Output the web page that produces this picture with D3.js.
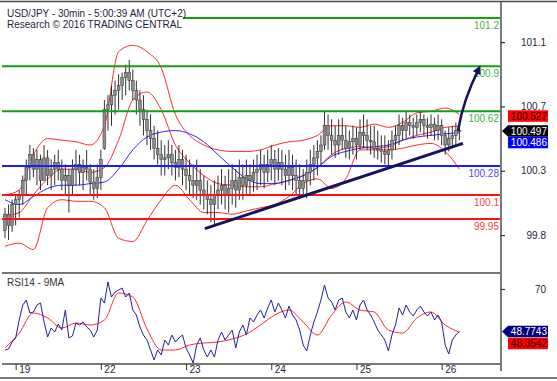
<!DOCTYPE html>
<html>
<head>
<meta charset="utf-8">
<script src="https://d3js.org/d3.v7.min.js"></script>
<style>
  body { margin: 0; background: #fff; }
  text { font-family: "Liberation Sans", Arial, sans-serif; font-size: 10px; }
</style>
</head>
<body>
<svg id="chart" width="557" height="381"></svg>
<script>
// ---- data ----
// 30 min bars, index 0 = first bar on the left
const highs = [100.02, 100.04, 100.07, 100.10, 100.13, 100.22, 100.32, 100.41, 100.39, 100.38,
  100.35, 100.41, 100.38, 100.32, 100.35, 100.38, 100.32, 100.29, 100.26, 100.32,
  100.38, 100.35, 100.32, 100.38, 100.29, 100.26, 100.29, 100.38, 100.69, 100.72,
  100.78, 100.81, 100.85, 100.86, 100.91, 100.94, 100.88, 100.81, 100.75, 100.72,
  100.63, 100.60, 100.53, 100.50, 100.44, 100.41, 100.44, 100.41, 100.38, 100.41,
  100.38, 100.35, 100.32, 100.29, 100.32, 100.26, 100.22, 100.19, 100.16, 100.19,
  100.22, 100.26, 100.22, 100.26, 100.29, 100.26, 100.32, 100.29, 100.32, 100.29,
  100.32, 100.35, 100.38, 100.35, 100.38, 100.41, 100.38, 100.39, 100.38, 100.35,
  100.38, 100.35, 100.32, 100.29, 100.26, 100.32, 100.38, 100.41, 100.44, 100.47,
  100.62, 100.60, 100.57, 100.53, 100.57, 100.58, 100.53, 100.50, 100.53, 100.52,
  100.57, 100.60, 100.57, 100.53, 100.53, 100.50, 100.47, 100.47, 100.44, 100.50,
  100.53, 100.60, 100.58, 100.62, 100.60, 100.58, 100.60, 100.62, 100.60, 100.58,
  100.60, 100.58, 100.60, 100.57, 100.50, 100.52, 100.53, 100.55, 100.53];
const lows = [99.83, 99.82, 99.87, 99.91, 99.96, 100.04, 100.10, 100.19, 100.21, 100.16,
  100.13, 100.19, 100.16, 100.13, 100.16, 100.19, 100.13, 100.10, 99.99, 100.10,
  100.16, 100.16, 100.13, 100.19, 100.10, 100.07, 100.08, 100.13, 100.38, 100.50,
  100.53, 100.60, 100.63, 100.69, 100.72, 100.75, 100.69, 100.60, 100.53, 100.47,
  100.41, 100.38, 100.32, 100.29, 100.22, 100.22, 100.26, 100.22, 100.19, 100.21,
  100.16, 100.13, 100.10, 100.08, 100.07, 100.04, 100.01, 99.98, 99.93, 99.91,
  100.01, 100.04, 100.01, 99.99, 100.04, 100.02, 100.07, 100.07, 100.10, 100.10,
  100.12, 100.13, 100.16, 100.14, 100.18, 100.19, 100.16, 100.19, 100.16, 100.13,
  100.16, 100.13, 100.10, 100.08, 100.09, 100.08, 100.16, 100.19, 100.22, 100.29,
  100.38, 100.38, 100.35, 100.33, 100.35, 100.38, 100.33, 100.32, 100.35, 100.32,
  100.38, 100.39, 100.38, 100.35, 100.33, 100.32, 100.30, 100.29, 100.27, 100.32,
  100.38, 100.41, 100.44, 100.45, 100.47, 100.45, 100.47, 100.49, 100.47, 100.45,
  100.47, 100.44, 100.44, 100.41, 100.35, 100.37, 100.39, 100.41, 100.44];
const opens = [99.88, 99.98, 99.91, 100.04, 100.07, 100.10, 100.19, 100.27, 100.35, 100.26,
  100.32, 100.19, 100.33, 100.22, 100.26, 100.30, 100.26, 100.19, 100.22, 100.16,
  100.26, 100.29, 100.24, 100.27, 100.26, 100.18, 100.14, 100.21, 100.39, 100.63,
  100.66, 100.72, 100.75, 100.78, 100.83, 100.86, 100.81, 100.75, 100.69, 100.63,
  100.57, 100.50, 100.45, 100.39, 100.35, 100.32, 100.33, 100.35, 100.30, 100.27,
  100.32, 100.26, 100.22, 100.19, 100.16, 100.19, 100.13, 100.10, 100.07, 100.04,
  100.10, 100.13, 100.16, 100.10, 100.14, 100.19, 100.13, 100.21, 100.16, 100.22,
  100.19, 100.24, 100.26, 100.29, 100.24, 100.29, 100.32, 100.26, 100.30, 100.26,
  100.22, 100.27, 100.22, 100.19, 100.14, 100.19, 100.24, 100.29, 100.33, 100.37,
  100.41, 100.53, 100.47, 100.44, 100.41, 100.47, 100.44, 100.39, 100.43, 100.45,
  100.41, 100.49, 100.47, 100.44, 100.43, 100.39, 100.38, 100.37, 100.35, 100.38,
  100.44, 100.47, 100.53, 100.50, 100.55, 100.53, 100.52, 100.55, 100.57, 100.53,
  100.52, 100.54, 100.50, 100.53, 100.47, 100.41, 100.45, 100.47, 100.50];
const closes = [99.98, 99.91, 100.04, 100.07, 100.10, 100.19, 100.27, 100.35, 100.26, 100.32,
  100.19, 100.33, 100.22, 100.26, 100.30, 100.26, 100.19, 100.22, 100.16, 100.26,
  100.29, 100.24, 100.27, 100.26, 100.18, 100.14, 100.21, 100.32, 100.63, 100.66,
  100.72, 100.75, 100.78, 100.83, 100.86, 100.81, 100.75, 100.69, 100.63, 100.57,
  100.50, 100.45, 100.39, 100.35, 100.32, 100.33, 100.35, 100.30, 100.27, 100.32,
  100.26, 100.22, 100.19, 100.16, 100.19, 100.13, 100.10, 100.07, 100.04, 100.10,
  100.13, 100.16, 100.10, 100.14, 100.19, 100.13, 100.21, 100.16, 100.22, 100.19,
  100.24, 100.26, 100.29, 100.24, 100.29, 100.32, 100.26, 100.30, 100.26, 100.22,
  100.27, 100.22, 100.19, 100.14, 100.19, 100.24, 100.29, 100.33, 100.37, 100.41,
  100.53, 100.47, 100.44, 100.41, 100.47, 100.44, 100.39, 100.43, 100.45, 100.41,
  100.49, 100.47, 100.44, 100.43, 100.39, 100.38, 100.37, 100.35, 100.38, 100.44,
  100.47, 100.53, 100.50, 100.55, 100.53, 100.52, 100.55, 100.57, 100.53, 100.52,
  100.54, 100.50, 100.53, 100.47, 100.41, 100.45, 100.47, 100.50, 100.497];

// indicators, one value every 4 bars
const bandStep = 4;
const bbUpper = [100.10, 100.13, 100.35, 100.45, 100.44, 100.43, 100.41, 100.53, 100.99, 101.03,
  100.99, 100.89, 100.60, 100.47, 100.41, 100.38, 100.37, 100.37, 100.38, 100.41,
  100.43, 100.44, 100.47, 100.53, 100.53, 100.52, 100.54, 100.52, 100.55, 100.61,
  100.62, 100.64, 100.60];
const bbMiddle = [99.97, 99.99, 100.10, 100.20, 100.26, 100.26, 100.24, 100.27, 100.44, 100.69,
  100.74, 100.63, 100.41, 100.30, 100.22, 100.17, 100.16, 100.15, 100.15, 100.17,
  100.19, 100.22, 100.27, 100.35, 100.39, 100.40, 100.39, 100.40, 100.44, 100.47,
  100.49, 100.52, 100.527];
const bbLower = [99.78, 99.80, 99.76, 100.02, 100.07, 100.06, 100.06, 100.02, 99.83, 99.81,
  99.94, 100.07, 100.16, 100.07, 99.99, 99.99, 99.98, 100.00, 100.02, 100.04,
  100.09, 100.17, 100.20, 100.14, 100.20, 100.38, 100.38, 100.38, 100.39, 100.41,
  100.42, 100.37, 100.26];
const maLine = [100.07, 100.04, 100.09, 100.14, 100.16, 100.16, 100.17, 100.18, 100.26, 100.38,
  100.46, 100.49, 100.50, 100.48, 100.43, 100.35, 100.27, 100.20, 100.17, 100.17,
  100.19, 100.22, 100.27, 100.34, 100.37, 100.39, 100.40, 100.41, 100.44, 100.46,
  100.47, 100.48, 100.486];

const rsi = [39.5, 40, 43.5, 45.5, 54.5, 62, 64.5, 58, 58.5, 62,
  63, 53.5, 46, 50.5, 48.5, 52.5, 49.5, 59.5, 45.5, 46.5,
  53, 52, 53.5, 51, 49.5, 46, 49.5, 65.5, 63, 73.5,
  66, 68.5, 69.5, 70.5, 66, 68, 59.5, 57, 51, 47,
  44.5, 39.5, 34.5, 39.5, 37, 44.5, 42, 47, 43.5, 45.5,
  47, 40.5, 37, 33, 42, 45.5, 39.5, 36, 39.5, 36,
  44.5, 48.5, 44.5, 47, 49.5, 40.5, 48.5, 52, 47, 55.5,
  53.5, 57, 59.5, 55.5, 60.5, 64.5, 58.5, 63, 59.5, 55.5,
  61.5, 57, 54.5, 49.5, 42, 39, 47, 53.5, 58.5, 64.5,
  72, 65.5, 63.5, 59.5, 64.5, 65.5, 58.5, 55.5, 59.5, 54.5,
  62, 64.5, 59.5, 57, 53.5, 49.5, 47, 44.5, 39, 47,
  52, 60.5, 57, 62, 58.5, 56.5, 59.5, 61.5, 58.5, 56.5,
  58.5, 54.5, 57, 53.5, 42, 37.5, 44.5, 47, 48.7743];
const rsiMa = [40.5, 48, 58, 55.5, 50.5, 53, 52, 54.5, 68, 66,
  50, 39.5, 39.5, 42, 43, 43.5, 45, 47.5, 52, 57,
  59.5, 53.5, 47, 57, 63.5, 59.5, 58.5, 49.5, 48, 55.5,
  58.5, 52, 48.3542];

// levels drawn by the analyst
const levelValues = [101.2, 100.9, 100.62, 100.28, 100.1, 99.95];
const levelLabels = ["101.2", "100.9", "100.62", "100.28", "100.1", "99.95"];
const levelKinds = ["res", "res", "res", "pivot", "sup", "sup"];
const trendBars = [56.3, 129];
const trendPrices = [99.89, 100.42];
const arrowBars = [127.6, 129, 133.6];
const arrowPrices = [100.497, 100.69, 100.89];

// axes
const priceTicks = [101.05, 100.65, 100.25, 99.85];
const priceTickLabels = ["101.1", "100.7", "100.3", "99.8"];
const dayStarts = [3, 27, 51, 75, 99, 123];
const dayLabels = ["19", "22", "23", "24", "25", "26"];

// ---- drawing ----
const svg = d3.select("svg#chart");
const pLeft = 2, pRight = 501, pTop = 2, pSplit = 273, pBottom = 364;

const x = d3.scaleLinear().domain([0, 128]).range([5, 459.4]);
const y = d3.scaleLinear().domain([99.95, 101.2]).range([219, 18]);
const yR = d3.scaleLinear().domain([30, 70]).range([369, 289]);

const defs = svg.append("defs");
defs.append("clipPath").attr("id", "clipMain").append("rect")
  .attr("x", pLeft).attr("y", pTop).attr("width", pRight - pLeft).attr("height", pSplit - pTop);
defs.append("clipPath").attr("id", "clipRsi").append("rect")
  .attr("x", pLeft).attr("y", pSplit).attr("width", pRight - pLeft).attr("height", pBottom - pSplit);
defs.append("marker").attr("id", "head")
  .attr("viewBox", "0 0 10 10").attr("refX", 7).attr("refY", 5)
  .attr("markerWidth", 4).attr("markerHeight", 3.4).attr("orient", "auto")
  .append("path").attr("d", "M0,0 L10,5 L0,10 z").attr("fill", "#14145c");

const main = svg.append("g").attr("clip-path", "url(#clipMain)");
const rsiArea = svg.append("g").attr("clip-path", "url(#clipRsi)");

// indicator lines
const bandLine = d3.line().x((d, i) => x(i * bandStep)).y(d => y(d)).curve(d3.curveMonotoneX);
[bbUpper, bbMiddle, bbLower].forEach(s => {
  main.append("path").datum(s).attr("d", bandLine)
    .attr("fill", "none").attr("stroke", "#ff2a2a").attr("stroke-width", 1);
});
main.append("path").datum(maLine).attr("d", bandLine)
  .attr("fill", "none").attr("stroke", "#2a2aff").attr("stroke-width", 1);

// candles
const bars = main.selectAll("g.bar").data(closes).join("g").attr("class", "bar");
bars.append("line")
  .attr("x1", (d, i) => x(i)).attr("x2", (d, i) => x(i))
  .attr("y1", (d, i) => y(highs[i])).attr("y2", (d, i) => y(lows[i]))
  .attr("stroke", "#1a1a1a").attr("stroke-width", 0.9);
bars.append("rect")
  .attr("x", (d, i) => x(i) - 1.4).attr("width", 2.8)
  .attr("y", (d, i) => y(Math.max(opens[i], d)))
  .attr("height", (d, i) => Math.max(1, Math.abs(y(opens[i]) - y(d))))
  .attr("fill", "#8e8e8e").attr("stroke", "#333").attr("stroke-width", 0.5);

// level lines
const levelColor = { res: "#13a013", pivot: "#1c1cff", sup: "#ff1010" };
const labelColor = { res: "#45b045", pivot: "#4a4aff", sup: "#ff4040" };
levelValues.forEach((v, i) => {
  main.append("line")
    .attr("x1", pLeft).attr("x2", pRight).attr("y1", y(v)).attr("y2", y(v))
    .attr("stroke", levelColor[levelKinds[i]]).attr("stroke-width", 2);
  main.append("text")
    .attr("x", pRight - 2).attr("y", y(v) + 11).attr("text-anchor", "end")
    .attr("fill", labelColor[levelKinds[i]]).text(levelLabels[i]);
});

// trend line and arrow
main.append("line")
  .attr("x1", x(trendBars[0])).attr("y1", y(trendPrices[0]))
  .attr("x2", x(trendBars[1])).attr("y2", y(trendPrices[1]))
  .attr("stroke", "#14145c").attr("stroke-width", 3);
const ap = d3.path();
ap.moveTo(x(arrowBars[0]), y(arrowPrices[0]));
ap.quadraticCurveTo(x(arrowBars[1]), y(arrowPrices[1]), x(arrowBars[2]), y(arrowPrices[2]));
main.append("path").attr("d", ap.toString())
  .attr("fill", "none").attr("stroke", "#14145c").attr("stroke-width", 2.5)
  .attr("marker-end", "url(#head)");

// RSI panel
const rsiLine = d3.line().x((d, i) => x(i)).y(d => yR(d));
const rsiMaLine = d3.line().x((d, i) => x(i * bandStep)).y(d => yR(d)).curve(d3.curveMonotoneX);
rsiArea.append("path").datum(rsiMa).attr("d", rsiMaLine)
  .attr("fill", "none").attr("stroke", "#ff2a2a").attr("stroke-width", 1);
rsiArea.append("path").datum(rsi).attr("d", rsiLine)
  .attr("fill", "none").attr("stroke", "#22229a").attr("stroke-width", 1);

// title box
svg.append("rect").attr("x", pLeft).attr("y", pTop + 1).attr("width", 181).attr("height", 28).attr("fill", "#fff");
svg.append("text").attr("x", 7).attr("y", 16.5).attr("fill", "#1e1e40")
  .text("USD/JPY - 30min - 5:00:39 AM (UTC+2)");
svg.append("text").attr("x", 7).attr("y", 28).attr("fill", "#1e1e40")
  .text("Research \u00A9 2016 TRADING CENTRAL");
svg.append("text").attr("x", 7).attr("y", 285.5).attr("fill", "#333")
  .text("RSI14 - 9MA");

// frame
const frame = "#4a4a4a";
svg.append("line").attr("x1", 0).attr("x2", 557).attr("y1", 1.5).attr("y2", 1.5).attr("stroke", frame).attr("stroke-width", 1.5);
svg.append("line").attr("x1", pLeft).attr("x2", pRight).attr("y1", pSplit).attr("y2", pSplit).attr("stroke", frame).attr("stroke-width", 1.5);
svg.append("line").attr("x1", pLeft).attr("x2", pRight).attr("y1", pBottom).attr("y2", pBottom).attr("stroke", frame).attr("stroke-width", 1.5);
svg.append("line").attr("x1", 0).attr("x2", 557).attr("y1", 378).attr("y2", 378).attr("stroke", frame).attr("stroke-width", 1.5);
svg.append("line").attr("x1", pRight).attr("x2", pRight).attr("y1", pTop).attr("y2", 371).attr("stroke", "#7a7a7a").attr("stroke-width", 2);

// right price axis
const priceAxis = d3.axisRight(y).tickValues(priceTicks)
  .tickFormat((d, i) => priceTickLabels[i]).tickSize(4);
const gP = svg.append("g").attr("transform", `translate(${pRight},0)`).call(priceAxis);
gP.select(".domain").remove();
gP.selectAll("line").attr("stroke", "#333").attr("stroke-width", 1.2);
gP.selectAll("text").attr("x", 45).attr("text-anchor", "end").attr("fill", "#1e1e40")
  .style("font-size", "10px").style("font-family", "Liberation Sans, Arial, sans-serif");

const rsiAxis = d3.axisRight(yR).tickValues([70]).tickFormat(d3.format("d")).tickSize(4);
const gR = svg.append("g").attr("transform", `translate(${pRight},0)`).call(rsiAxis);
gR.select(".domain").remove();
gR.selectAll("line").attr("stroke", "#333").attr("stroke-width", 1.2);
gR.selectAll("text").attr("x", 45).attr("text-anchor", "end").attr("fill", "#1e1e40")
  .style("font-size", "10px").style("font-family", "Liberation Sans, Arial, sans-serif");

// bottom time axis
const timeAxis = d3.axisBottom(x).tickValues(dayStarts)
  .tickFormat((d, i) => dayLabels[i]).tickSize(6);
const gT = svg.append("g").attr("transform", `translate(0,${pBottom})`).call(timeAxis);
gT.select(".domain").remove();
gT.selectAll("line").attr("stroke", "#333").attr("stroke-width", 1);
gT.selectAll("text").attr("x", 3).attr("y", 2).attr("dy", "0.71em").attr("text-anchor", "start")
  .attr("fill", "#1e1e40").style("font-size", "10px")
  .style("font-family", "Liberation Sans, Arial, sans-serif");

// value tags on the right
function tag(yc, fill, color, label, pointer) {
  const g = svg.append("g");
  const x0 = 508, x1 = 548, h = 11.5;
  if (pointer) {
    g.append("path")
      .attr("d", `M${pRight + 1},${yc} L${x0},${yc - h / 2} L${x1},${yc - h / 2} L${x1},${yc + h / 2} L${x0},${yc + h / 2} Z`)
      .attr("fill", fill);
  } else {
    g.append("rect").attr("x", x0).attr("y", yc - h / 2).attr("width", x1 - x0).attr("height", h).attr("fill", fill);
  }
  g.append("text").attr("x", x1 - 1).attr("y", yc + 3.6).attr("text-anchor", "end")
    .attr("fill", color).text(label);
}
const lastClose = closes[closes.length - 1];
const yc = y(lastClose);
tag(yc - 15, "#ff0000", "#1a0000", bbMiddle[bbMiddle.length - 1].toFixed(3), false);
tag(yc, "#000000", "#ffffff", lastClose.toFixed(3), true);
tag(yc + 11.5, "#0000ff", "#ffffff", maLine[maLine.length - 1].toFixed(3), false);

const ry = yR(rsi[rsi.length - 1]);
tag(ry, "#000080", "#ffffff", rsi[rsi.length - 1].toFixed(4), true);
tag(ry + 12, "#ff0000", "#1a0000", rsiMa[rsiMa.length - 1].toFixed(4), false);
</script>
</body>
</html>
